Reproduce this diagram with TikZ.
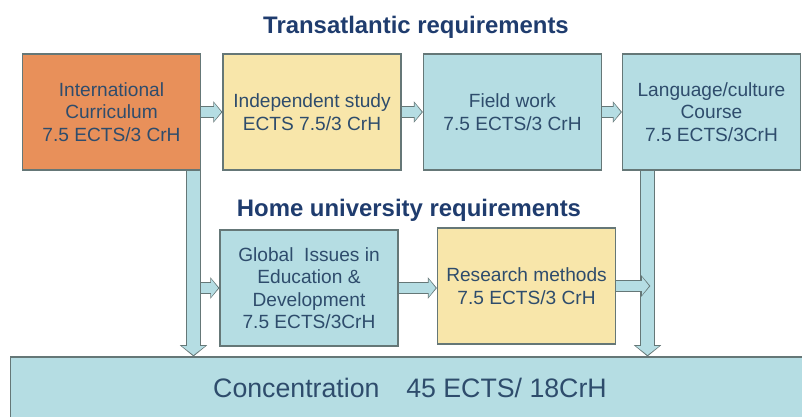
\documentclass[tikz,border=0pt]{standalone}
\usepackage{fontspec}
\setmainfont{Liberation Sans}
\usepackage{xcolor}
\usepackage{tikz}
\usetikzlibrary{arrows.meta,positioning}

\definecolor{boxorange}{HTML}{E8905A}
\definecolor{boxyellow}{HTML}{F8E6AA}
\definecolor{boxblue}{HTML}{B5DDE3}
\definecolor{boxline}{HTML}{657777}
\definecolor{boxtext}{HTML}{2E4C6C}
\definecolor{titleblue}{HTML}{1F3C6E}

\tikzset{
  course/.style={draw=boxline, line width=0.8pt, minimum width=4.45cm, minimum height=2.9cm,
    align=center, text=boxtext, inner sep=2pt, font=\fontsize{13.6}{16}\selectfont},
  heading/.style={text=titleblue, font=\bfseries\fontsize{17}{20}\selectfont},
  fatout/.style={line width=8.5pt, boxline, -{Triangle[width=15pt,length=6.5pt]}},
  fatin/.style={line width=7pt, boxblue, shorten >=0.9pt, -{Triangle[width=12.4pt,length=5pt]}},
  tallout/.style={line width=10.6pt, boxline, -{Triangle[width=19pt,length=8pt]}},
  tallin/.style={line width=9pt, boxblue, shorten >=1pt, -{Triangle[width=16.2pt,length=6.4pt]}}
}

\begin{document}
\begin{tikzpicture}[x=0.025cm, y=-0.025cm]
        \useasboundingbox (0,0) rectangle (802,416);
        % Headings
        \node[heading] (transtitle) at (416,27) {Transatlantic requirements};
        \node[heading] (hometitle) at (409,210) {Home university requirements};
        % Transatlantic row
        \node[course, fill=boxorange] (intl) at (111.5,112) {International\\Curriculum\\7.5 ECTS/3 CrH};
        \node[course, fill=boxyellow] (indep) at (312,112) {Independent study\\ECTS 7.5/3 CrH};
        \node[course, fill=boxblue] (field) at (512.5,112) {Field work\\7.5 ECTS/3 CrH};
        \node[course, fill=boxblue] (lang) at (711.5,112) {Language/culture\\Course\\7.5 ECTS/3CrH};
        % Home university row
        \node[course, fill=boxblue] (global) at (309,288) {Global\ \ Issues in\\Education \&\\Development\\7.5 ECTS/3CrH};
        \node[course, fill=boxyellow] (research) at (526.5,286) {Research methods\\7.5 ECTS/3 CrH};
        % Concentration
        \node[draw=boxline, line width=0.8pt, fill=boxblue, minimum width=19.95cm, minimum height=1.55cm,
          text=boxtext, font=\fontsize{19}{22}\selectfont] (conc) at (410,388) {Concentration\quad 45 ECTS/ 18CrH};
        % Down arrows
        \coordinate (lefttop) at ([xshift=-0.19cm]intl.south east);
        \coordinate (righttop) at ([xshift=0.64cm]lang.south west);
        \foreach \a in {lefttop,righttop} {
            \draw[tallout] (\a) -- (\a |- conc.north);
            \draw[tallin] (\a) -- (\a |- conc.north);
        }
        % Side arrows
        \foreach \a/\b in {intl.east/indep.west, indep.east/field.west, field.east/lang.west} {
            \draw[fatout] (\a) -- (\b);
            \draw[fatin] (\a) -- (\b);
        }
        \draw[fatout] (intl.south east |- global.west) -- (global.west);
        \draw[fatin] (intl.south east |- global.west) -- (global.west);
        \draw[fatout] (global.east) -- (global.east -| research.west);
        \draw[fatin] (global.east) -- (global.east -| research.west);
        \draw[fatout] (research.east) -- ([xshift=0.07cm]righttop |- research.east);
        \draw[fatin] (research.east) -- ([xshift=0.07cm]righttop |- research.east);
    \end{tikzpicture}
\end{document}
